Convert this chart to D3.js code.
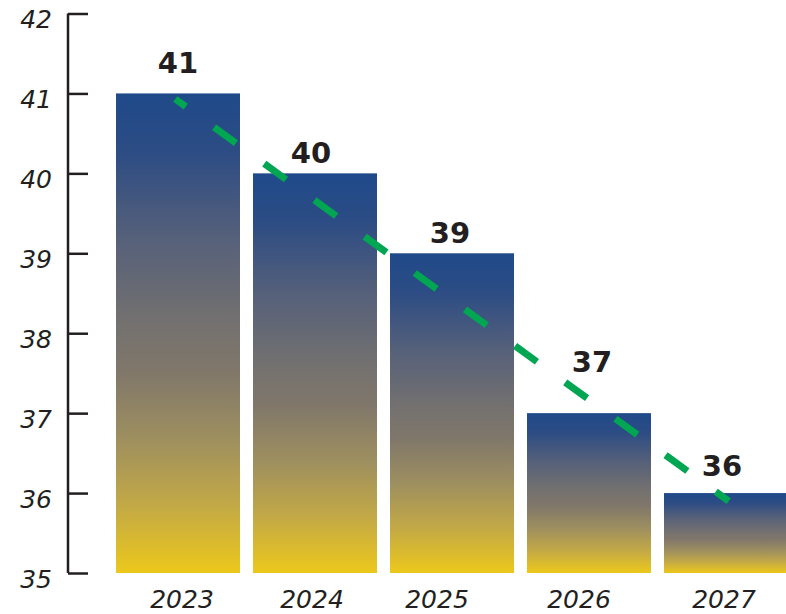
<!DOCTYPE html>
<html>
<head>
<meta charset="utf-8">
<script src="https://cdn.jsdelivr.net/npm/d3@7"></script>
<style>
  html, body { margin: 0; padding: 0; background: #ffffff; }
  svg { display: block; }
</style>
</head>
<body>
<svg id="chart" width="786" height="614"></svg>
<script>
// ---- data ----
const years = ["2023", "2024", "2025", "2026", "2027"];
const values = [41, 40, 39, 37, 36];
const yTicks = [35, 36, 37, 38, 39, 40, 41, 42];
const trendPos = [-0.02, 4.02];      // position along categories (index)
const trendValues = [40.93, 35.9];   // trend line values at those positions

// ---- layout (not data) ----
const labelLift = [20, 10, 10, 41, 17];   // px gap between bar top and value label baseline
const labelShift = [0, -4, -2, 3, -4];    // px horizontal nudge of value labels
const yearShift = [4, -3, -15, -10, -2];  // px horizontal nudge of year labels

const svg = d3.select("#chart");
const ink = "#231f20";

const x = d3.scaleBand().domain(years).range([109.5, 794.5])
  .paddingInner(0.095).paddingOuter(0.0475);
const y = d3.scaleLinear().domain([35, 42]).range([573, 13.5]);
const bw = x.bandwidth();
const xi = d3.scaleLinear().domain([0, years.length - 1])
  .range([x(years[0]) + bw / 2, x(years[years.length - 1]) + bw / 2]);

// gradient
const defs = svg.append("defs");
const grad = defs.append("linearGradient").attr("id", "barGrad")
  .attr("x1", 0).attr("y1", 0).attr("x2", 0).attr("y2", 1);
[[0, "#1f4a8a"], [0.12, "#2c4c84"], [0.3, "#55607a"], [0.47, "#727070"],
 [0.58, "#80776a"], [0.72, "#9e8f5f"], [0.86, "#c3a946"], [1, "#ecc81b"]]
  .forEach(([o, c]) => grad.append("stop").attr("offset", o).attr("stop-color", c));

// bars
svg.append("g").selectAll("rect").data(values).join("rect")
  .attr("x", (d, i) => x(years[i]))
  .attr("y", d => y(d))
  .attr("width", bw)
  .attr("height", d => y(35) - y(d))
  .attr("fill", "url(#barGrad)");

// y axis
const axis = d3.axisRight(y).tickValues(yTicks).tickSize(20).tickFormat("");
const gAxis = svg.append("g").attr("transform", "translate(68,0)").call(axis);
gAxis.select(".domain").attr("stroke", ink).attr("stroke-width", 2.5)
  .attr("d", `M0,${y(42)}V${y(35)}`);
gAxis.selectAll(".tick line").attr("stroke", ink).attr("stroke-width", 2.5);

// y tick labels
svg.append("g").selectAll("text").data(yTicks).join("text")
  .attr("x", 52)
  .attr("y", d => y(d) + 14.5)
  .attr("text-anchor", "end")
  .attr("font-family", "DejaVu Sans")
  .attr("font-style", "italic")
  .attr("font-size", 25)
  .attr("fill", ink)
  .text(d => d);

// year labels
svg.append("g").selectAll("text").data(years).join("text")
  .attr("x", (d, i) => x(d) + bw / 2 + yearShift[i])
  .attr("y", 608)
  .attr("text-anchor", "middle")
  .attr("font-family", "DejaVu Sans")
  .attr("font-style", "italic")
  .attr("font-size", 25)
  .attr("fill", ink)
  .text(d => d);

// trend line
const line = d3.line().x(d => xi(d[0])).y(d => y(d[1]));
svg.append("path")
  .datum(trendPos.map((p, i) => [p, trendValues[i]]))
  .attr("d", line)
  .attr("fill", "none")
  .attr("stroke", "#00a651")
  .attr("stroke-width", 7)
  .attr("stroke-dasharray", "27 35")
  .attr("stroke-dashoffset", 14);

// value labels
svg.append("g").selectAll("text").data(values).join("text")
  .attr("x", (d, i) => x(years[i]) + bw / 2 + labelShift[i])
  .attr("y", (d, i) => y(d) - labelLift[i])
  .attr("text-anchor", "middle")
  .attr("font-family", "DejaVu Sans")
  .attr("font-weight", "bold")
  .attr("font-size", 29)
  .attr("fill", ink)
  .text(d => d);
</script>
</body>
</html>
